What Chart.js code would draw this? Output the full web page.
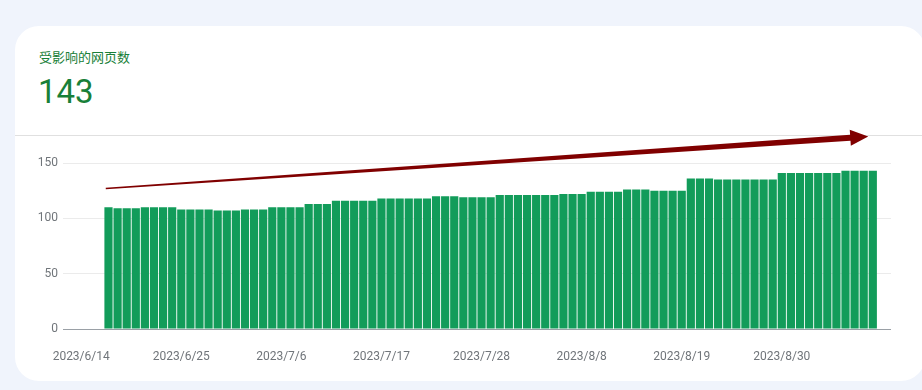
<!DOCTYPE html>
<html>
<head>
<meta charset="utf-8">
<script src="https://cdn.jsdelivr.net/npm/chart.js@4"></script>
<style>
  html, body { margin: 0; padding: 0; }
  body { width: 922px; height: 390px; background: #f0f4fc; position: relative; overflow: hidden; font-family: Roboto, "Noto Sans CJK SC", sans-serif; }
  .card { position: absolute; left: 15px; top: 26px; width: 910px; height: 355px; background: #fff; border-radius: 24px; }
  .title { position: absolute; left: 24px; top: 21px; font-size: 13px; color: #188038; font-family: "Noto Sans CJK SC", sans-serif; }
  .value { position: absolute; left: 23px; top: 46px; font-size: 33px; color: #188038; font-family: Roboto, sans-serif; }
  .divider { position: absolute; left: 0; right: 0; top: 109px; height: 1px; background: #e0e0e0; }
  .wrap { position: absolute; left: 0; top: 0; width: 922px; height: 390px; }
</style>
</head>
<body>
<div class="card">
  <div class="title">受影响的网页数</div>
  <div class="value">143</div>
  <div class="divider"></div>
</div>
<div class="wrap"><canvas id="pages"></canvas></div>
<script>
// axis runs 2023/6/12 .. 2023/9/11, data 6/17 .. 9/9
const startDay = new Date(2023, 5, 12);
const dayCount = 92;
const dates = Array.from({ length: dayCount }, (_, i) => {
  const d = new Date(startDay.getTime() + i * 86400000);
  return d.getFullYear() + "/" + (d.getMonth() + 1) + "/" + d.getDate();
});
const shownTicks = ["2023/6/14", "2023/6/25", "2023/7/6", "2023/7/17", "2023/7/28", "2023/8/8", "2023/8/19", "2023/8/30"];
const yTicks = [0, 50, 100, 150];

const pages = [
  null, null, null, null, null,
  110, 109, 109, 109, 110, 110, 110, 110, 108, 108, 108, 108, 107, 107, 107,
  108, 108, 108, 110, 110, 110, 110, 113, 113, 113, 116, 116, 116, 116, 116,
  118, 118, 118, 118, 118, 118, 120, 120, 120, 119, 119, 119, 119,
  121, 121, 121, 121, 121, 121, 121, 122, 122, 122, 124, 124, 124, 124,
  126, 126, 126, 125, 125, 125, 125, 136, 136, 136,
  135, 135, 135, 135, 135, 135, 135, 141, 141, 141, 141, 141, 141, 141,
  143, 143, 143, 143,
  null, null
];

// trend arrow annotation, in axis units (x = day index, y = pages)
const arrowFrom = { x: 4.7, y: 127 };
const arrowTo = { x: 88.5, y: 174 };

const arrowPlugin = {
  id: "trendArrow",
  afterDatasetsDraw(chart) {
    const { ctx, scales: { x, y } } = chart;
    const x0 = x.getPixelForValue(arrowFrom.x), y0 = y.getPixelForValue(arrowFrom.y);
    const x1 = x.getPixelForValue(arrowTo.x), y1 = y.getPixelForValue(arrowTo.y);
    const len = Math.hypot(x1 - x0, y1 - y0);
    const ux = (x1 - x0) / len, uy = (y1 - y0) / len;
    const nx = -uy, ny = ux;
    const headLen = 18, headHalf = 8, w0 = 0.8, w1 = 3;
    const bx = x1 - ux * headLen, by = y1 - uy * headLen;
    ctx.save();
    ctx.fillStyle = "#800000";
    ctx.beginPath();
    ctx.moveTo(x0 + nx * w0, y0 + ny * w0);
    ctx.lineTo(bx + nx * w1, by + ny * w1);
    ctx.lineTo(bx + nx * headHalf, by + ny * headHalf);
    ctx.lineTo(x1, y1);
    ctx.lineTo(bx - nx * headHalf, by - ny * headHalf);
    ctx.lineTo(bx - nx * w1, by - ny * w1);
    ctx.lineTo(x0 - nx * w0, y0 - ny * w0);
    ctx.closePath();
    ctx.fill();
    ctx.restore();
  }
};

new Chart(document.getElementById("pages"), {
  type: "bar",
  data: {
    labels: dates,
    datasets: [{ data: pages, backgroundColor: "#129c5a", categoryPercentage: 1, barPercentage: 0.9 }],
  },
  options: {
    responsive: true,
    maintainAspectRatio: false,
    animation: false,
    layout: { padding: { left: 0, right: 31, top: 163, bottom: 20 } },
    plugins: { legend: { display: false }, tooltip: { enabled: false } },
    scales: {
      x: {
        offset: false,
        grid: { display: false, offset: false },
        border: { display: false },
        afterFit: s => { s.height = 41; },
        ticks: {
          autoSkip: false, maxRotation: 0, padding: 13,
          color: "#70757a", font: { family: "Roboto", size: 12 },
          callback: function (v, i) { const l = this.getLabelForValue(v); return shownTicks.includes(l) ? l : null; }
        }
      },
      y: {
        min: 0, max: 150,
        afterBuildTicks: s => { s.ticks = yTicks.map(v => ({ value: v })); },
        afterFit: s => { s.width = 63; },
        border: { display: false },
        grid: { drawTicks: false, color: c => c.tick.value === 0 ? "#9aa0a6" : "#ebebeb" },
        ticks: { padding: 5, color: "#70757a", font: { family: "Roboto", size: 12 } }
      }
    }
  },
  plugins: [arrowPlugin]
});
</script>
</body>
</html>
